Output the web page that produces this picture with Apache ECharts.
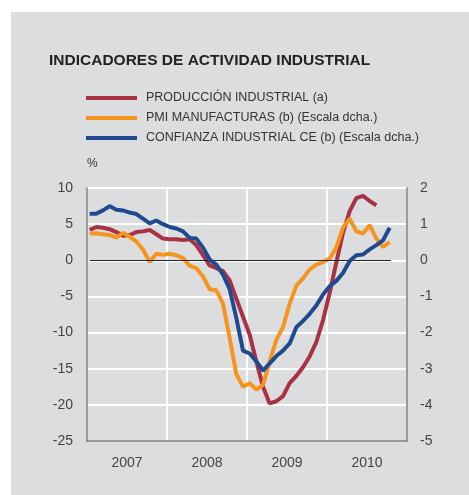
<!DOCTYPE html>
<html>
<head>
<meta charset="utf-8">
<script src="https://cdn.jsdelivr.net/npm/echarts@6/dist/echarts.min.js"></script>
<style>
  html, body { margin: 0; padding: 0; background: #fff; }
  #chart { position: absolute; left: 11px; top: 12px; width: 458px; height: 483px; }
</style>
</head>
<body>
<div id="chart"></div>
<script>
const years = ["2007", "2008", "2009", "2010"];
const leftTicks = { min: -25, max: 10, step: 5 };
const rightTicks = { min: -5, max: 2, step: 1 };

// monthly, from jan 2007
const produccion = [4.2, 4.6, 4.5, 4.3, 3.9, 3.4, 3.5, 3.9, 4.0, 4.2, 3.6, 3.0,
  2.9, 2.9, 2.8, 2.9, 2.1, 0.7, -0.7, -1.1, -1.5, -2.8, -5.3, -7.8,
  -10.3, -14.0, -17.5, -19.8, -19.5, -18.8, -17.0, -16.0, -14.8, -13.3, -11.3, -8.3,
  -4.5, -0.3, 3.8, 6.8, 8.6, 8.9, 8.2, 7.6];
const pmi = [0.74, 0.75, 0.72, 0.70, 0.63, 0.76, 0.65, 0.52, 0.30, -0.05, 0.18, 0.15,
  0.18, 0.14, 0.06, -0.15, -0.22, -0.45, -0.80, -0.83, -1.20, -2.15, -3.15, -3.50,
  -3.40, -3.58, -3.45, -2.80, -2.20, -1.85, -1.20, -0.70, -0.50, -0.25, -0.12, -0.05,
  0.05, 0.35, 0.90, 1.15, 0.80, 0.74, 0.97, 0.60, 0.37, 0.50];
const confianza = [1.29, 1.29, 1.38, 1.50, 1.40, 1.38, 1.32, 1.28, 1.15, 1.02, 1.10, 1.00,
  0.92, 0.88, 0.80, 0.62, 0.60, 0.35, 0.02, -0.12, -0.40, -0.80, -1.60, -2.50,
  -2.58, -2.80, -3.05, -2.85, -2.65, -2.50, -2.30, -1.85, -1.68, -1.48, -1.25, -0.95,
  -0.72, -0.57, -0.35, -0.02, 0.14, 0.16, 0.30, 0.42, 0.55, 0.90];

const names = [
  "PRODUCCIÓN INDUSTRIAL (a)",
  "PMI MANUFACTURAS (b) (Escala dcha.)",
  "CONFIANZA INDUSTRIAL CE (b) (Escala dcha.)"
];

const toPoints = arr => arr.map((v, i) => [i + 0.4, v]);

const chart = echarts.init(document.getElementById("chart"));
const font = "Liberation Sans, Arial, sans-serif";
const axisGrey = "#7a7a7a";

const option = {
  backgroundColor: "#dcdddf",
  animation: false,
  title: {
    text: "INDICADORES DE ACTIVIDAD INDUSTRIAL",
    left: 33,
    top: 36,
    textStyle: { fontFamily: font, fontSize: 15.5, fontWeight: "bold", color: "#222" }
  },
  legend: {
    orient: "vertical",
    left: 70,
    top: 74,
    icon: "rect",
    itemWidth: 51,
    itemHeight: 4,
    itemGap: 6,
    data: names,
    textStyle: { fontFamily: font, fontSize: 12.5, color: "#333", lineHeight: 14, padding: [0, 0, 0, 4] }
  },
  grid: { left: 76, right: 62, top: 176, bottom: 54 },
  xAxis: [
    {
      type: "value",
      min: 0,
      max: 48,
      interval: 12,
      axisLine: { show: true, onZero: false, lineStyle: { color: axisGrey, width: 1.5 } },
      axisTick: { show: false },
      axisLabel: { show: false },
      splitLine: { show: true, lineStyle: { color: "#fff", width: 2 } }
    },
    {
      type: "category",
      position: "bottom",
      data: years,
      boundaryGap: true,
      axisLine: { show: false },
      axisTick: { show: false },
      axisLabel: { fontFamily: font, fontSize: 14, color: "#444", margin: 15 },
      splitLine: { show: false }
    }
  ],
  yAxis: [
    {
      type: "value",
      min: leftTicks.min,
      max: leftTicks.max,
      interval: leftTicks.step,
      name: "%",
      nameLocation: "end",
      nameGap: 18,
      nameTextStyle: { fontFamily: font, fontSize: 12, color: "#333", align: "left" },
      axisLine: { show: true, lineStyle: { color: axisGrey, width: 1.5 } },
      axisTick: { show: false },
      axisLabel: { fontFamily: font, fontSize: 14, color: "#444", margin: 14 },
      splitLine: { show: true, lineStyle: { color: "#fff", width: 2 } }
    },
    {
      type: "value",
      min: rightTicks.min,
      max: rightTicks.max,
      interval: rightTicks.step,
      position: "right",
      axisLine: { show: true, lineStyle: { color: axisGrey, width: 1.5 } },
      axisTick: { show: false },
      axisLabel: { fontFamily: font, fontSize: 14, color: "#444", margin: 13 },
      splitLine: { show: false }
    }
  ],
  series: [
    {
      name: names[0],
      type: "line",
      xAxisIndex: 0,
      yAxisIndex: 0,
      data: toPoints(produccion),
      showSymbol: false,
      lineStyle: { width: 4, color: "#a83244" },
      itemStyle: { color: "#a83244" },
      markLine: {
        silent: true,
        symbol: "none",
        label: { show: false },
        lineStyle: { color: "#222", width: 1, type: "solid" },
        data: [[{ coord: [0.4, 0] }, { coord: [45.6, 0] }]]
      },
      z: 3
    },
    {
      name: names[1],
      type: "line",
      xAxisIndex: 0,
      yAxisIndex: 1,
      data: toPoints(pmi),
      showSymbol: false,
      lineStyle: { width: 4, color: "#f7941d" },
      itemStyle: { color: "#f7941d" },
      z: 4
    },
    {
      name: names[2],
      type: "line",
      xAxisIndex: 0,
      yAxisIndex: 1,
      data: toPoints(confianza),
      showSymbol: false,
      lineStyle: { width: 4, color: "#1f4a8f" },
      itemStyle: { color: "#1f4a8f" },
      z: 5
    }
  ]
};

chart.setOption(option);
</script>
</body>
</html>
